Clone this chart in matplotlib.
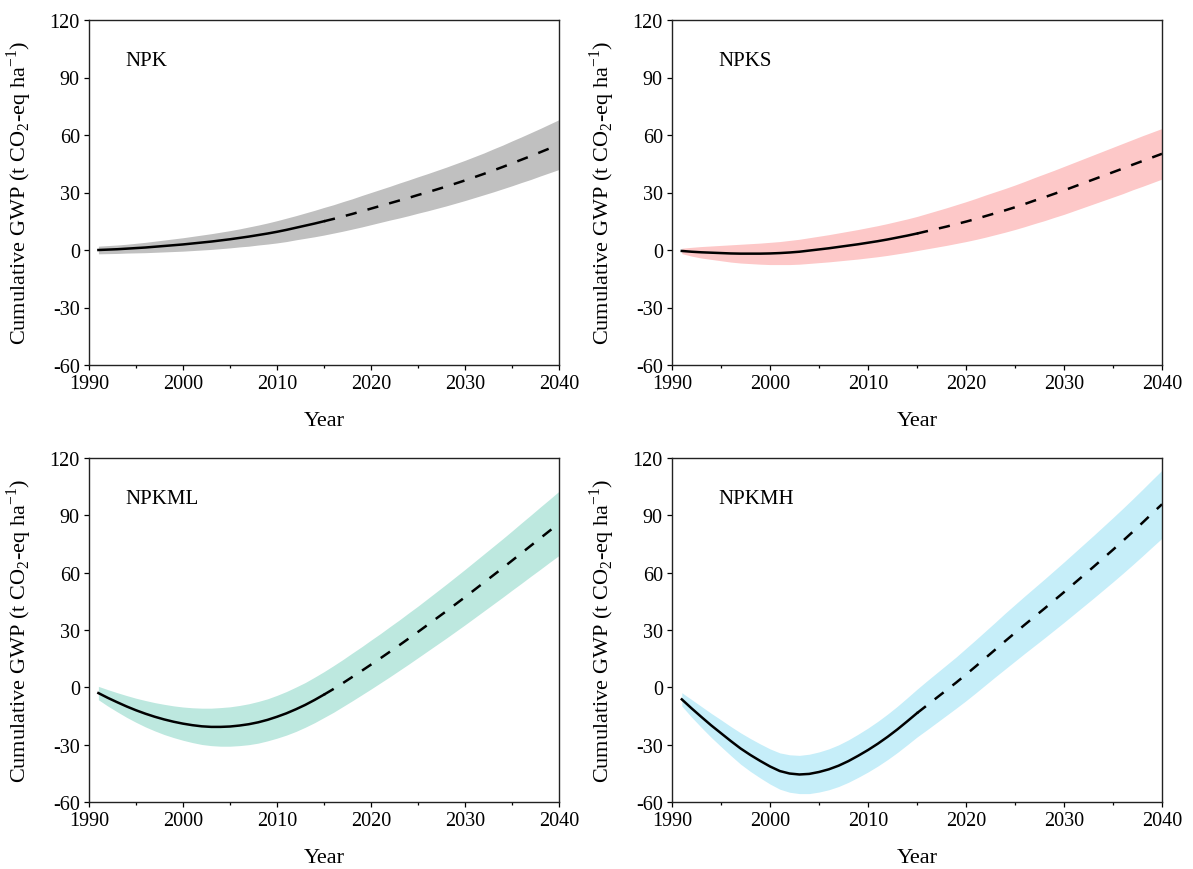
import numpy as np
import matplotlib.pyplot as plt
from matplotlib.ticker import MultipleLocator

plt.rcParams['font.family'] = ['Liberation Serif', 'DejaVu Serif']
plt.rcParams['mathtext.fontset'] = 'custom'
plt.rcParams['mathtext.rm'] = 'Liberation Serif'
plt.rcParams['axes.unicode_minus'] = False

years = list(range(1991, 2041))
split_year = 2015

# mean line and half-width of the shaded band, one value per year
npk_mean = [0.0, 0.2, 0.4, 0.7, 1.0, 1.3, 1.7, 2.1, 2.5, 2.9,
            3.4, 3.9, 4.4, 5.0, 5.6, 6.3, 7.0, 7.8, 8.6, 9.5,
            10.5, 11.6, 12.7, 13.8, 15.0, 16.2, 17.5, 18.8, 20.2, 21.6,
            23.0, 24.4, 25.8, 27.2, 28.7, 30.1, 31.6, 33.1, 34.7, 36.3,
            38.0, 39.7, 41.5, 43.3, 45.2, 47.1, 49.0, 51.0, 53.0, 55.0]
npk_spread = [2.0, 2.1, 2.2, 2.3, 2.5, 2.7, 2.9, 3.1, 3.3, 3.5,
              3.7, 3.9, 4.1, 4.3, 4.5, 4.7, 5.0, 5.2, 5.5, 5.8,
              6.1, 6.3, 6.6, 6.9, 7.2, 7.4, 7.7, 7.9, 8.2, 8.4,
              8.6, 8.8, 9.1, 9.3, 9.5, 9.7, 9.9, 10.1, 10.3, 10.5,
              10.7, 10.9, 11.2, 11.4, 11.7, 11.9, 12.2, 12.4, 12.7, 13.0]

npks_mean = [-0.5, -0.9, -1.2, -1.4, -1.6, -1.8, -1.9, -1.9, -1.9, -1.8,
             -1.6, -1.3, -0.9, -0.3, 0.3, 0.9, 1.6, 2.3, 3.0, 3.8,
             4.6, 5.5, 6.5, 7.5, 8.6, 9.8, 11.0, 12.2, 13.5, 14.8,
             16.2, 17.7, 19.2, 20.7, 22.3, 24.0, 25.8, 27.5, 29.3, 31.1,
             33.0, 34.9, 36.8, 38.7, 40.6, 42.5, 44.5, 46.4, 48.3, 50.2]
npks_spread = [1.4, 2.3, 3.0, 3.5, 4.0, 4.5, 4.9, 5.2, 5.5, 5.8,
               6.0, 6.3, 6.5, 6.7, 6.9, 7.1, 7.3, 7.5, 7.7, 7.9,
               8.1, 8.3, 8.5, 8.7, 8.9, 9.2, 9.5, 9.8, 10.1, 10.4,
               10.7, 11.0, 11.2, 11.4, 11.6, 11.8, 12.0, 12.2, 12.3, 12.5,
               12.6, 12.7, 12.8, 12.9, 13.0, 13.1, 13.1, 13.2, 13.2, 13.2]

npkml_mean = [-3.0, -5.5, -7.8, -10.0, -12.0, -13.8, -15.4, -16.8, -18.0, -19.0,
              -19.8, -20.4, -20.7, -20.7, -20.5, -20.0, -19.3, -18.3, -17.0, -15.4,
              -13.6, -11.5, -9.2, -6.6, -3.8, -0.9, 2.2, 5.4, 8.6, 11.9,
              15.2, 18.6, 22.0, 25.5, 29.0, 32.6, 36.2, 39.8, 43.5, 47.2,
              51.0, 54.8, 58.6, 62.4, 66.3, 70.2, 74.1, 78.0, 81.9, 85.8]
npkml_spread = [3.5, 4.3, 5.0, 5.7, 6.3, 6.9, 7.4, 7.9, 8.3, 8.7,
                9.1, 9.5, 9.8, 10.1, 10.3, 10.5, 10.7, 10.9, 11.0, 11.2,
                11.4, 11.6, 11.7, 11.9, 12.0, 12.2, 12.3, 12.5, 12.6, 12.8,
                12.9, 13.1, 13.2, 13.4, 13.5, 13.7, 13.9, 14.1, 14.3, 14.5,
                14.7, 14.9, 15.1, 15.3, 15.5, 15.8, 16.0, 16.3, 16.5, 16.8]

npkmh_mean = [-6.3, -11.0, -15.5, -19.9, -24.0, -28.1, -32.0, -35.4, -38.5, -41.4,
              -43.8, -45.1, -45.6, -45.3, -44.3, -42.9, -41.0, -38.6, -35.8, -32.8,
              -29.5, -25.9, -22.0, -17.8, -13.5, -9.5, -5.5, -1.5, 2.5, 6.7,
              11.0, 15.4, 19.8, 24.2, 28.5, 32.8, 37.0, 41.2, 45.5, 49.8,
              54.2, 58.6, 63.0, 67.5, 72.0, 76.6, 81.3, 86.1, 91.0, 95.8]
npkmh_spread = [3.5, 4.6, 5.5, 6.3, 7.0, 7.6, 8.2, 8.6, 8.9, 9.2,
                9.5, 9.8, 10.0, 10.3, 10.5, 10.7, 10.9, 11.1, 11.3, 11.5,
                11.7, 11.9, 12.1, 12.3, 12.5, 12.8, 13.0, 13.2, 13.4, 13.7,
                13.9, 14.1, 14.3, 14.6, 14.8, 15.0, 15.2, 15.4, 15.6, 15.8,
                16.0, 16.2, 16.4, 16.6, 16.8, 17.0, 17.2, 17.4, 17.6, 17.8]

labels = ['NPK', 'NPKS', 'NPKML', 'NPKMH']
means = [npk_mean, npks_mean, npkml_mean, npkmh_mean]
spreads = [npk_spread, npks_spread, npkml_spread, npkmh_spread]
colors = ['#c0c0c0', '#fdc8c8', '#bde8df', '#c6eef9']
# axes boxes in pixels: left, top, right, bottom
boxes = [[89, 21, 559, 366], [672, 21, 1162, 366],
         [89, 459, 559, 803], [672, 459, 1162, 803]]

W, H = 1193, 870
fig = plt.figure(figsize=(W / 100, H / 100), dpi=100)

k = years.index(split_year)
for name, mean, spread, color, (x0, y0, x1, y1) in zip(labels, means, spreads, colors, boxes):
    ax = fig.add_axes([x0 / W, 1 - y1 / H, (x1 - x0) / W, (y1 - y0) / H])
    m = np.array(mean)
    s = np.array(spread)
    ax.fill_between(years, m - s, m + s, color=color, lw=0)
    ax.plot(years[:k + 1], m[:k + 1], color='black', lw=1.8)
    ax.plot(years[k:], m[k:], color='black', lw=1.8, dashes=(4.5, 4.5))

    ax.set_xlim(1990, 2040)
    ax.set_ylim(-60, 120)
    ax.xaxis.set_major_locator(MultipleLocator(10))
    ax.xaxis.set_minor_locator(MultipleLocator(5))
    ax.yaxis.set_major_locator(MultipleLocator(30))
    ax.tick_params(which='major', direction='out', length=3.6, width=0.9, labelsize=14.5, pad=3)
    ax.tick_params(which='minor', direction='out', length=2.4, width=0.9)
    for sp in ax.spines.values():
        sp.set_linewidth(1.0)
        sp.set_color('#222222')

    ax.set_xlabel('Year', fontsize=16)
    ax.set_ylabel(r'Cumulative GWP (t CO$_\mathregular{2}$-eq ha$^\mathregular{-1}$)', fontsize=16)
    wpx = x1 - x0
    hpx = y1 - y0
    ax.yaxis.set_label_coords(-55 / wpx, 0.5)
    ax.xaxis.set_label_coords(0.5, -46 / hpx)
    ax.text(36 / wpx if x0 < 600 else 46 / wpx, 0.883, name, transform=ax.transAxes,
            fontsize=15, va='center', ha='left')

fig.savefig('out.png', dpi=100)
